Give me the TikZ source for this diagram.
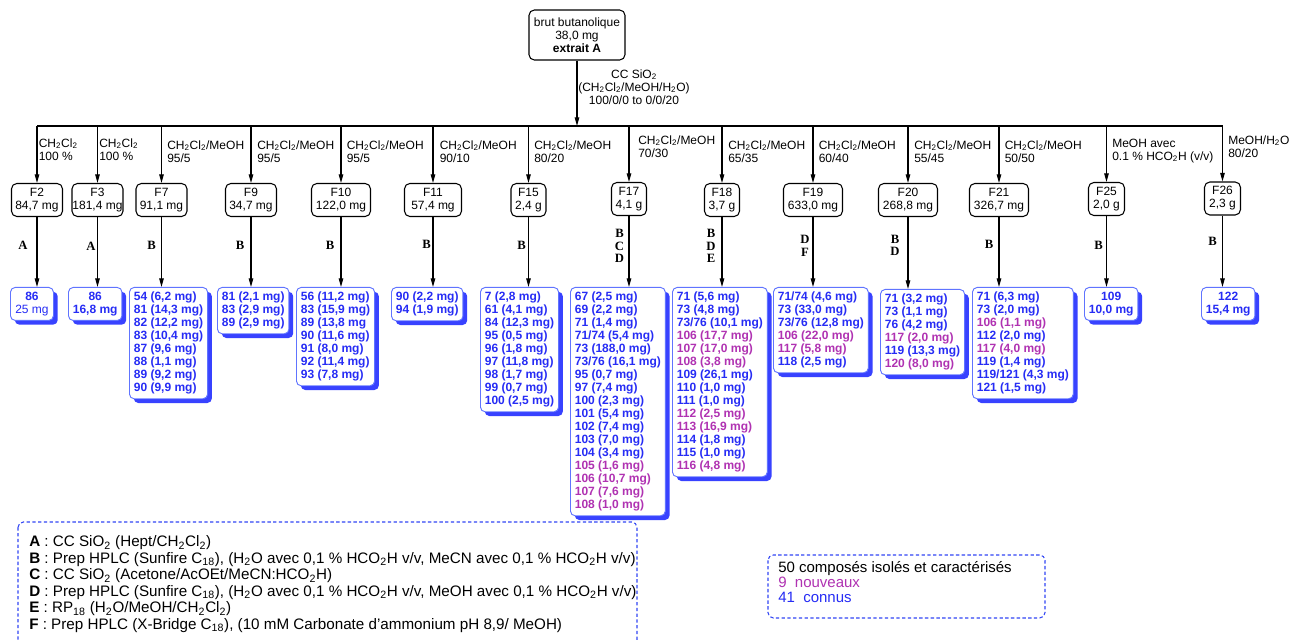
\documentclass[tikz,border=0pt]{standalone}
\usepackage{fontspec}
\setmainfont{Liberation Sans}
\newfontfamily\methfont{Liberation Serif}
\usetikzlibrary{arrows.meta,shadows}
\definecolor{cblue}{RGB}{38,44,245}
\definecolor{cmag}{RGB}{176,50,178}
\definecolor{sblue}{RGB}{56,66,255}
\definecolor{bblue}{RGB}{96,116,255}
\definecolor{dblue}{RGB}{50,70,245}
\newcommand\ssb[1]{\textsubscript{#1}}
\newcommand\nw[1]{\textcolor{cmag}{#1}}
\begin{document}
\begin{tikzpicture}[x=0.75pt,y=-0.75pt,
 arr/.style={line width=0.8pt, -{Triangle[length=6.5pt,width=3.4pt]}},
 topbox/.style={draw, line width=0.8pt, rounded corners=4pt, align=center, font=\fontsize{9}{9.75}\selectfont, minimum width=72pt, minimum height=37.5pt, inner sep=0pt},
 frac/.style={draw, line width=0.8pt, rounded corners=4pt, align=center, font=\fontsize{9}{9.75}\selectfont, minimum width=#1, minimum height=24.75pt, inner sep=0pt},
 frac/.default=38.25pt,
 flab/.style={anchor=north west, align=left, inner sep=0pt, font=\fontsize{9}{9.75}\selectfont},
 meth/.style={inner sep=0pt, align=center, font=\fontsize{9.5}{9.5}\methfont\bfseries},
 cbox/.style={draw=bblue, line width=0.7pt, fill=white, rounded corners=3.5pt, anchor=north west, align=left, text=cblue, font=\fontsize{9}{9.75}\selectfont\bfseries, inner xsep=3.3pt, inner ysep=3.4pt, drop shadow={shadow xshift=3.2pt, shadow yshift=-3.2pt, fill=sblue, opacity=1, draw=none}},
 cboxc/.style={cbox, align=center, minimum width=#1},
 legbox/.style={draw=dblue, line width=0.8pt, dash pattern=on 2.5pt off 1.8pt, rounded corners=4pt},
 legtext/.style={anchor=north west, inner sep=0pt, align=left}
]
\fill[white] (0,0) rectangle (1290,641);
\useasboundingbox (0,0) rectangle (1290,641);

% top
\node[topbox] (top) at (577,35) {brut butanolique\\38,0 mg\\\textbf{extrait A}};
\node[align=center, inner sep=0pt, font=\fontsize{9}{9.75}\selectfont] (cc) at (634,87) {CC SiO\ssb2\\(CH\ssb2Cl\ssb2/MeOH/H\ssb2O)\\100/0/0 to 0/0/20};

% bus
\coordinate (b2) at (37,126);
\coordinate (b3) at (97.5,126);
\coordinate (b7) at (161.5,126);
\coordinate (b9) at (251,126);
\coordinate (b10) at (341,126);
\coordinate (b11) at (433,126);
\coordinate (b15) at (528.5,126);
\coordinate (b17) at (629,126);
\coordinate (b18) at (722,126);
\coordinate (b19) at (813,126);
\coordinate (b20) at (908,126);
\coordinate (b21) at (999,126);
\coordinate (b25) at (1106.5,126);
\coordinate (b26) at (1222.5,126);
\draw[arr] (top.south) -- (top.south |- b2);
\draw[line width=0.9pt] (b2) -- (b26);

% fractions
\node[frac] (F2) at (37,200) {F2\\84,7 mg};
\node[frac] (F3) at (97.5,200) {F3\\181,4 mg};
\node[frac] (F7) at (161.5,200) {F7\\91,1 mg};
\node[frac] (F9) at (251,200) {F9\\34,7 mg};
\node[frac=44.25pt] (F10) at (341,200) {F10\\122,0 mg};
\node[frac=42.75pt] (F11) at (433,200) {F11\\57,4 mg};
\node[frac=26.25pt] (F15) at (528.5,200) {F15\\2,4 g};
\node[frac=26.25pt] (F17) at (629,199) {F17\\4,1 g};
\node[frac=26.25pt] (F18) at (722,200) {F18\\3,7 g};
\node[frac=44.25pt] (F19) at (813,200) {F19\\633,0 mg};
\node[frac=44.25pt] (F20) at (908,200) {F20\\268,8 mg};
\node[frac=44.25pt] (F21) at (999,200) {F21\\326,7 mg};
\node[frac=27pt] (F25) at (1106.5,199) {F25\\2,0 g};
\node[frac=27pt] (F26) at (1222.5,198.5) {F26\\2,3 g};

\foreach \f in {2,3,7,9,10,11,15,17,18,19,20,21,25,26}{
  \draw[arr] (b\f) -- (F\f.north);
}

% eluent labels
\node[flab] (l2) at (38.5,138.5) {CH\ssb2Cl\ssb2\\100 \%};
\node[flab] (l3) at (99,138.5) {CH\ssb2Cl\ssb2\\100 \%};
\node[flab] (l7) at (167,140.5) {CH\ssb2Cl\ssb2/MeOH\\95/5};
\node[flab] (l9) at (257,140.5) {CH\ssb2Cl\ssb2/MeOH\\95/5};
\node[flab] (l10) at (346.5,140.5) {CH\ssb2Cl\ssb2/MeOH\\95/5};
\node[flab] (l11) at (439.5,140.5) {CH\ssb2Cl\ssb2/MeOH\\90/10};
\node[flab] (l15) at (534,140.5) {CH\ssb2Cl\ssb2/MeOH\\80/20};
\node[flab] (l17) at (638,135.5) {CH\ssb2Cl\ssb2/MeOH\\70/30};
\node[flab] (l18) at (728,140.5) {CH\ssb2Cl\ssb2/MeOH\\65/35};
\node[flab] (l19) at (818.5,140.5) {CH\ssb2Cl\ssb2/MeOH\\60/40};
\node[flab] (l20) at (914,140.5) {CH\ssb2Cl\ssb2/MeOH\\55/45};
\node[flab] (l21) at (1004.5,140.5) {CH\ssb2Cl\ssb2/MeOH\\50/50};
\node[flab] (l25) at (1112,138.5) {MeOH avec\\0.1 \% HCO\ssb2H (v/v)};
\node[flab] (l26) at (1228,135.5) {MeOH/H\ssb2O\\80/20};

% compound boxes
\node[cboxc=32.25pt] (C2) at (10,287) {86\\{\mdseries 25 mg}};
\node[cboxc=39pt] (C3) at (68,287) {86\\16,8 mg};
\node[cbox] (C7) at (129,287) {54 (6,2 mg)\\81 (14,3 mg)\\82 (12,2 mg)\\83 (10,4 mg)\\87 (9,6 mg)\\88 (1,1 mg)\\89 (9,2 mg)\\90 (9,9 mg)};
\node[cbox] (C9) at (217,287) {81 (2,1 mg)\\83 (2,9 mg)\\89 (2,9 mg)};
\node[cbox] (C10) at (296,287) {56 (11,2 mg)\\83 (15,9 mg)\\89 (13,8 mg\\90 (11,6 mg)\\91 (8,0 mg)\\92 (11,4 mg)\\93 (7,8 mg)};
\node[cbox] (C11) at (391,287) {90 (2,2 mg)\\94 (1,9 mg)};
\node[cbox] (C15) at (480,287) {7 (2,8 mg)\\61 (4,1 mg)\\84 (12,3 mg)\\95 (0,5 mg)\\96 (1,8 mg)\\97 (11,8 mg)\\98 (1,7 mg)\\99 (0,7 mg)\\100 (2,5 mg)};
\node[cbox] (C17) at (570,287) {67 (2,5 mg)\\69 (2,2 mg)\\71 (1,4 mg)\\71/74 (5,4 mg)\\73 (188,0 mg)\\73/76 (16,1 mg)\\95 (0,7 mg)\\97 (7,4 mg)\\100 (2,3 mg)\\101 (5,4 mg)\\102 (7,4 mg)\\103 (7,0 mg)\\104 (3,4 mg)\\\nw{105 (1,6 mg)}\\\nw{106 (10,7 mg)}\\\nw{107 (7,6 mg)}\\\nw{108 (1,0 mg)}};
\node[cbox] (C18) at (672,287) {71 (5,6 mg)\\73 (4,8 mg)\\73/76 (10,1 mg)\\\nw{106 (17,7 mg)}\\\nw{107 (17,0 mg)}\\\nw{108 (3,8 mg)}\\109 (26,1 mg)\\110 (1,0 mg)\\111 (1,0 mg)\\\nw{112 (2,5 mg)}\\\nw{113 (16,9 mg)}\\114 (1,8 mg)\\115 (1,0 mg)\\\nw{116 (4,8 mg)}};
\node[cbox] (C19) at (773,287) {71/74 (4,6 mg)\\73 (33,0 mg)\\73/76 (12,8 mg)\\\nw{106 (22,0 mg)}\\\nw{117 (5,8 mg)}\\118 (2,5 mg)};
\node[cbox] (C20) at (880,289) {71 (3,2 mg)\\73 (1,1 mg)\\76 (4,2 mg)\\\nw{117 (2,0 mg)}\\119 (13,3 mg)\\\nw{120 (8,0 mg)}};
\node[cbox] (C21) at (972,287) {71 (6,3 mg)\\73 (2,0 mg)\\\nw{106 (1,1 mg)}\\112 (2,0 mg)\\\nw{117 (4,0 mg)}\\119 (1,4 mg)\\119/121 (4,3 mg)\\121 (1,5 mg)};
\node[cboxc=39pt] (C25) at (1084,287) {109\\10,0 mg};
\node[cboxc=39pt] (C26) at (1201,287) {122\\15,4 mg};

\foreach \f in {2,3,7,9,10,11,15,17,18,19,20,21,25,26}{
  \draw[arr] (F\f.south) -- (F\f.south |- C\f.north);
}

% method letters
\node[meth] (m2) at (23,245) {A};
\node[meth] (m3) at (91,246.5) {A};
\node[meth] (m7) at (151.5,245.5) {B};
\node[meth] (m9) at (240,245) {B};
\node[meth] (m10) at (330,245) {B};
\node[meth] (m11) at (426.5,244.5) {B};
\node[meth] (m15) at (521.5,245) {B};
\node[meth] (m17) at (619.5,246) {B\\C\\D};
\node[meth] (m18) at (711,246) {B\\D\\E};
\node[meth] (m19) at (805,246) {D\\F};
\node[meth] (m20) at (895,245.5) {B\\D};
\node[meth] (m21) at (989,244.5) {B};
\node[meth] (m25) at (1098.5,245.5) {B};
\node[meth] (m26) at (1212.5,241.5) {B};

% legend 1
\draw[legbox] (18,522) rectangle (637,655);
\node[legtext, font=\fontsize{11.4}{12.4}\selectfont] (leg1) at (29,535.5) {%
\textbf{A} : CC SiO\ssb2 (Hept/CH\ssb2Cl\ssb2)\\
\textbf{B} : Prep HPLC (Sunfire C\ssb{18}), (H\ssb2O avec 0,1 \% HCO\ssb2H v/v, MeCN avec 0,1 \% HCO\ssb2H v/v)\\
\textbf{C} : CC SiO\ssb2 (Acetone/AcOEt/MeCN:HCO\ssb2H)\\
\textbf{D} : Prep HPLC (Sunfire C\ssb{18}), (H\ssb2O avec 0,1 \% HCO\ssb2H v/v, MeOH avec 0,1 \% HCO\ssb2H v/v)\\
\textbf{E} : RP\ssb{18} (H\ssb2O/MeOH/CH\ssb2Cl\ssb2)\\
\textbf{F} : Prep HPLC (X-Bridge C\ssb{18}), (10 mM Carbonate d'ammonium pH 8,9/ MeOH)};

% legend 2
\draw[legbox] (768,555) rectangle (1045,618);
\node[legtext, font=\fontsize{11.25}{11.25}\selectfont] (leg2) at (778,561) {50 composés isolés et caractérisés\\\textcolor{cmag}{9\ \ nouveaux}\\\textcolor{cblue}{41\ \ connus}};
\end{tikzpicture}
\end{document}
